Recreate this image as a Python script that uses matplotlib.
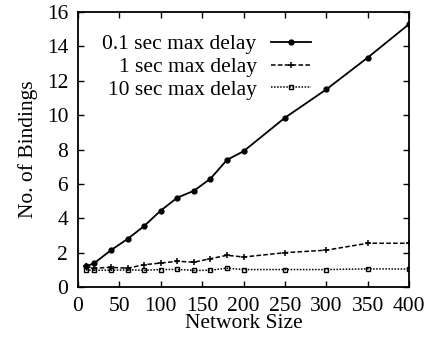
import matplotlib
matplotlib.use("Agg")
import matplotlib.pyplot as plt

network_size = [10, 20, 40, 60, 80, 100, 120, 140, 160, 180, 200, 250, 300, 350, 400]
delay_01 = [1.2, 1.4, 2.15, 2.8, 3.55, 4.45, 5.2, 5.6, 6.3, 7.4, 7.9, 9.85, 11.5, 13.35, 15.3]
delay_1 = [1.2, 1.1, 1.15, 1.1, 1.3, 1.4, 1.5, 1.45, 1.65, 1.85, 1.75, 2.0, 2.15, 2.55, 2.55]
delay_10 = [1.0, 0.98, 0.98, 1.0, 0.98, 1.02, 1.03, 0.97, 0.98, 1.1, 1.02, 1.02, 1.02, 1.06, 1.05]

plt.rcParams['font.family'] = ['Liberation Serif', 'DejaVu Serif']
plt.rcParams['font.size'] = 15.5

fig = plt.figure(figsize=(4.28, 3.43), dpi=100)
ax = fig.add_axes([0.182, 0.163, 0.774, 0.802])

ax.plot(network_size, delay_01, color='black', lw=1.3, ls='-', marker='o', ms=3.5,
        label='0.1 sec max delay')
ax.plot(network_size, delay_1, color='black', lw=1.1, ls=(0, (3, 1.5)), marker='+', ms=4.5,
        mew=1.1, label='1 sec max delay')
ax.plot(network_size, delay_10, color='black', lw=1.1, ls=(0, (1, 1)), marker='s', ms=3.5,
        mfc='none', mew=1.0, label='10 sec max delay')

ax.set_xlim(0, 400)
ax.set_ylim(0, 16)
ax.set_xticks([0, 50, 100, 150, 200, 250, 300, 350, 400])
ax.set_yticks([0, 2, 4, 6, 8, 10, 12, 14, 16])
ax.tick_params(direction='in', top=True, right=True, length=4, width=1.0)
ax.tick_params(axis='x', pad=7)
ax.tick_params(axis='y', pad=7)
for s in ax.spines.values():
    s.set_linewidth(1.3)

ax.set_xlabel('Network Size', labelpad=-1)
ax.set_ylabel('No. of Bindings', labelpad=6)

leg = ax.legend(loc='upper left', bbox_to_anchor=(0.048, 0.95), frameon=False,
                markerfirst=False, handlelength=1.9, handletextpad=0.65,
                labelspacing=0.12, borderaxespad=0, handleheight=0.7)
for t in leg.get_texts():
    t.set_ha('right')
leg._legend_box.align = 'right'

fig.savefig('out.png', dpi=100)
